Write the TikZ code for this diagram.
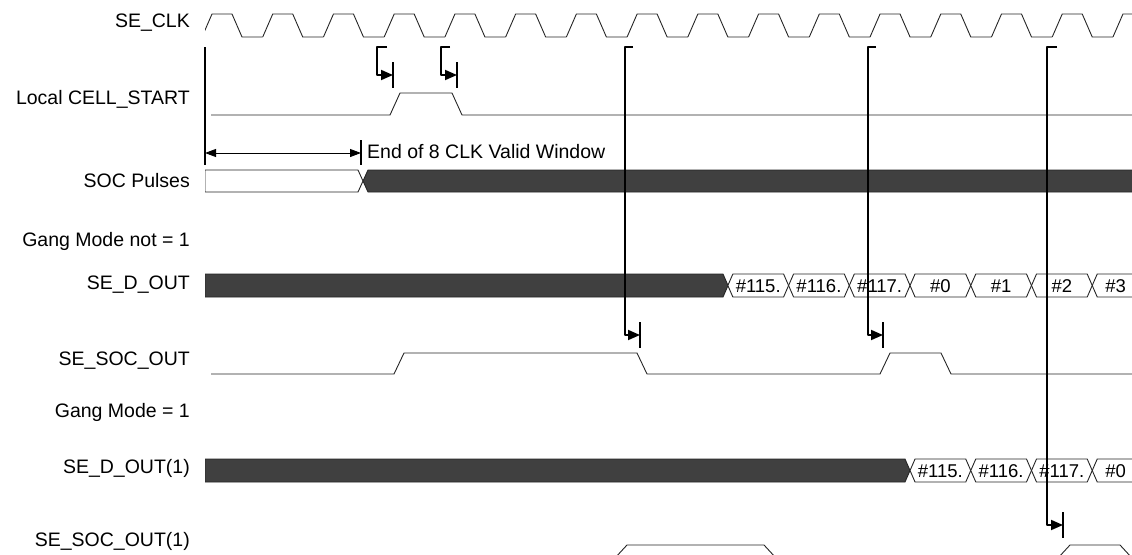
\documentclass[tikz,border=0pt]{standalone}
\usepackage{fontspec}
\setmainfont{Liberation Sans}
\usetikzlibrary{arrows.meta}
\definecolor{busdark}{RGB}{64, 64, 64}

\begin{document}
\begin{tikzpicture}[x=1pt, y=-1pt, line join=round,
  wave/.style={line width=0.9pt, black!85},
  brk/.style={line width=1.8pt, -{Triangle[length=12pt, width=10pt]}},
  bar/.style={line width=1.8pt},
  lbl/.style={anchor=east, inner sep=0pt, font=\fontsize{19.5}{22}\selectfont},
  val/.style={inner sep=0pt, font=\fontsize{18.5}{22}\selectfont}]

  \useasboundingbox (0, 0) rectangle (1132, 554);
  \def\T{60.73}

  \node[lbl] (clk)    at (190, 23)  {SE\_CLK};
  \node[lbl] (cell)   at (190, 99)  {Local CELL\_START};
  \node[lbl] (soc)    at (190, 181) {SOC Pulses};
  \node[lbl] (gang0)  at (190, 241) {Gang Mode not = 1};
  \node[lbl] (dout)   at (190, 285) {SE\_D\_OUT};
  \node[lbl] (socout) at (190, 361) {SE\_SOC\_OUT};
  \node[lbl] (gang1)  at (190, 412) {Gang Mode = 1};
  \node[lbl] (dout1)  at (190, 468) {SE\_D\_OUT(1)};
  \node[lbl] (socout1) at (190, 541) {SE\_SOC\_OUT(1)};

  \begin{scope}
    \clip (205, 0) rectangle (1132, 554);
    \foreach \n in {0, 1,..., 15} {
      \draw[wave] ({202 + \T*\n}, 37) -- ++(10, -23) -- ++(20, 0)
        -- ++(10, 23) -- ++({\T - 40}, 0);
    }

    \draw[wave] (211, 115) -- (390, 115) -- (400, 93) -- (452, 93)
      -- (462, 115) -- (1140, 115);

    \draw[wave, fill=white] (205, 170) -- (358, 170) -- (363, 181)
      -- (358, 192) -- (205, 192) -- cycle;
    \draw[wave, fill=busdark] (363, 181) -- (368, 170) -- (1140, 170)
      -- (1140, 192) -- (368, 192) -- cycle;

    \draw[wave, fill=busdark] (205, 274) -- (723, 274) -- (728, 285.5)
      -- (723, 297) -- (205, 297) -- cycle;
    \foreach \k/\v in {8/\#115., 9/\#116., 10/\#117., 11/\#0, 12/\#1, 13/\#2, 14/\#3} {
      \pgfmathsetmacro{\a}{242 + \T*\k}
      \pgfmathsetmacro{\b}{\a + \T}
      \draw[wave, fill=white] (\a, 285.5) -- (\a+5, 274) -- (\b-5, 274)
        -- (\b, 285.5) -- (\b-5, 297) -- (\a+5, 297) -- cycle;
      \node[val] at ({(\a + 5 + min(\b - 5, 1134))/2}, 286) {\v};
    }

    \draw[wave] (211, 374) -- (394, 374) -- (404, 353) -- (637, 353)
      -- (647, 374) -- (880, 374) -- (890, 353) -- (941, 353)
      -- (951, 374) -- (1140, 374);

    \draw[wave, fill=busdark] (205, 459) -- (905, 459) -- (910, 470.5)
      -- (905, 482) -- (205, 482) -- cycle;
    \foreach \k/\v in {11/\#115., 12/\#116., 13/\#117., 14/\#0} {
      \pgfmathsetmacro{\a}{242 + \T*\k}
      \pgfmathsetmacro{\b}{\a + \T}
      \draw[wave, fill=white] (\a, 470.5) -- (\a+5, 459) -- (\b-5, 459)
        -- (\b, 470.5) -- (\b-5, 482) -- (\a+5, 482) -- cycle;
      \node[val] at ({(\a + 5 + min(\b - 5, 1134))/2}, 471) {\v};
    }

    \draw[wave] (615, 558) -- (627, 545) -- (764, 545) -- (776, 558);
    \draw[wave] (1058, 558) -- (1070, 545) -- (1120, 545) -- (1132, 558);
  \end{scope}

  \coordinate (w0) at (205, 153);
  \coordinate (w1) at (361, 153);
  \draw[bar] (205, 47) -- (205, 165);
  \draw[bar] (361, 140) -- (361, 165);
  \draw[line width=0.9pt, {Triangle[length=11pt, width=8pt]}-{Triangle[length=11pt, width=8pt]}] (w0) -- (w1);
  \node[anchor=west, inner sep=0pt, font=\fontsize{19.5}{22}\selectfont] (win) at (367, 152) {End of 8 CLK Valid Window};

  \foreach \t/\v/\e/\y [count=\i] in {387/377/393/75, 450/441/457/75,
      633/625/640/335, 876/868/883/335, 1057/1047/1063/525} {
    \coordinate (top\i) at (\t, 47);
    \coordinate (tip\i) at (\e, \y);
    \draw[brk] (top\i) -- (\v, 47) |- (tip\i);
    \draw[bar] (\e, \y - 13) -- (\e, \y + 13);
  }

\end{tikzpicture}
\end{document}
